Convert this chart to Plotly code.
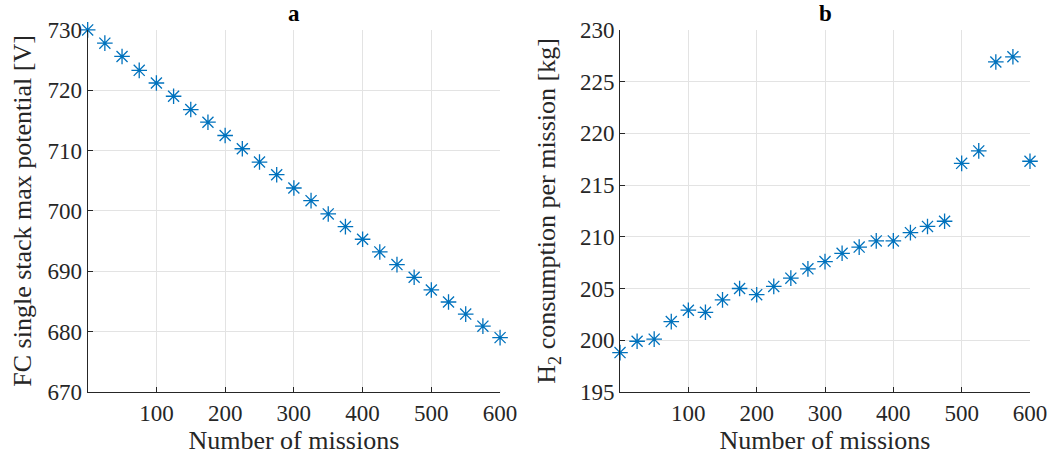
import plotly.graph_objects as go

missions = [0, 25, 50, 75, 100, 125, 150, 175, 200, 225, 250, 275, 300,
            325, 350, 375, 400, 425, 450, 475, 500, 525, 550, 575, 600]
fc_potential = [730.0, 727.8, 725.6, 723.3, 721.2, 719.0, 716.8, 714.7, 712.5,
                710.3, 708.1, 706.0, 703.8, 701.7, 699.5, 697.4, 695.3, 693.2,
                691.1, 689.0, 686.9, 684.9, 682.9, 680.9, 679.0]
h2_consumption = [198.8, 199.9, 200.1, 201.8, 202.9, 202.7, 203.9, 205.0, 204.4,
                  205.2, 206.0, 206.9, 207.6, 208.4, 209.0, 209.6, 209.6, 210.4,
                  211.0, 211.5, 217.1, 218.3, 226.9, 227.4, 217.3]
x_ticks = [100, 200, 300, 400, 500, 600]
left_yticks = [670, 680, 690, 700, 710, 720, 730]
right_yticks = [195, 200, 205, 210, 215, 220, 225, 230]

FONT = "Liberation Serif, Times New Roman, serif"
BLUE = "#0072BD"
AX = "#262626"
GRID = "#e3e3e3"
TICK = 23
TITLE = 26

fig = go.Figure()
marker = dict(symbol="asterisk-open", size=13, color=BLUE,
              line=dict(color=BLUE, width=1.3))
fig.add_trace(go.Scatter(x=missions, y=fc_potential, mode="markers", marker=marker,
                         xaxis="x", yaxis="y", cliponaxis=False, showlegend=False))
fig.add_trace(go.Scatter(x=missions, y=h2_consumption, mode="markers", marker=marker,
                         xaxis="x2", yaxis="y2", cliponaxis=False, showlegend=False))

ydom = [0.148, 0.935]
common_x = dict(range=[0, 600], tickvals=x_ticks, showgrid=True, gridcolor=GRID,
                showline=True, linecolor=AX, linewidth=1, ticks="inside", ticklen=5,
                tickcolor=AX, zeroline=False, automargin=False,
                tickfont=dict(family=FONT, size=TICK, color=AX),
                title=dict(text="Number of missions", font=dict(family=FONT, size=TITLE, color=AX),
                           standoff=4))
common_y = dict(showgrid=True, gridcolor=GRID, showline=True, linecolor=AX, linewidth=1,
                ticks="inside", ticklen=5, tickcolor=AX, zeroline=False, automargin=False,
                tickfont=dict(family=FONT, size=TICK, color=AX))

fig.update_layout(
    width=1055, height=460,
    margin=dict(l=0, r=0, t=0, b=0, autoexpand=False),
    paper_bgcolor="white", plot_bgcolor="white",
    xaxis=dict(domain=[0.0831, 0.474], anchor="y", **common_x),
    yaxis=dict(domain=ydom, anchor="x", range=[670, 730], tickvals=left_yticks,
               title=dict(text="FC single stack max potential [V]",
                          font=dict(family=FONT, size=TITLE, color=AX), standoff=8),
               **common_y),
    xaxis2=dict(domain=[0.5877, 0.9763], anchor="y2", **common_x),
    yaxis2=dict(domain=ydom, anchor="x2", range=[195, 230], tickvals=right_yticks,
                title=dict(text="H<sub>2</sub> consumption per mission [kg]",
                           font=dict(family=FONT, size=TITLE, color=AX), standoff=16),
                **common_y),
    annotations=[
        dict(text="<b>a</b>", x=0.5, xref="x domain", y=1.0, yref="y domain",
             yanchor="bottom", yshift=2, showarrow=False,
             font=dict(family=FONT, size=23, color="black")),
        dict(text="<b>b</b>", x=0.5, xref="x2 domain", y=1.0, yref="y2 domain",
             yanchor="bottom", yshift=2, showarrow=False,
             font=dict(family=FONT, size=23, color="black")),
    ],
)

fig.write_html("out.html")
